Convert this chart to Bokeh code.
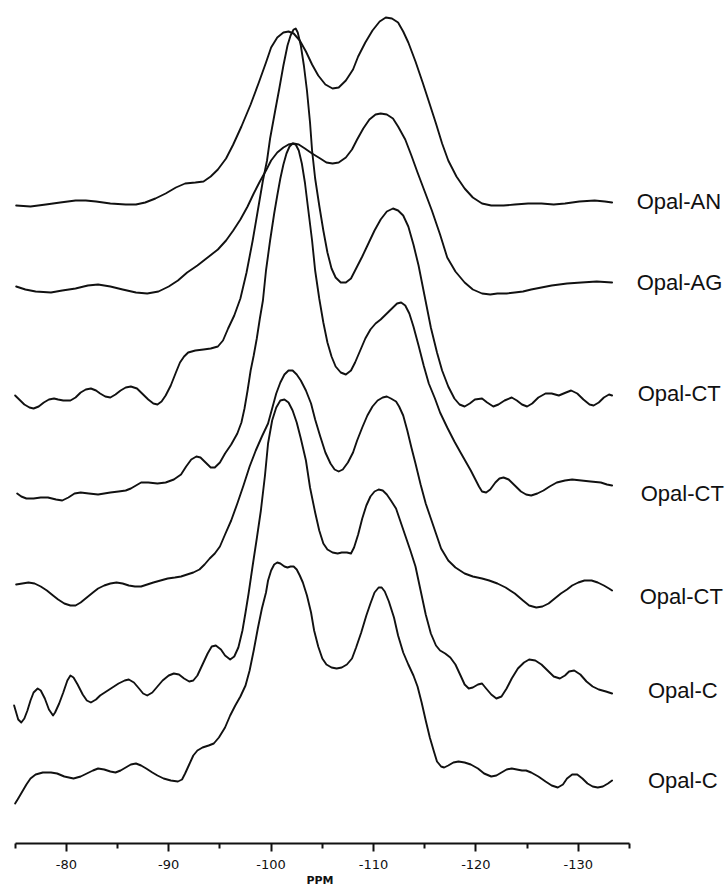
from bokeh.plotting import figure
from bokeh.models import Range1d, FixedTicker, Title
from bokeh.embed import file_html
from bokeh.resources import INLINE
from bokeh.core.properties import value

# ---------------- data: chemical shift (ppm) and stacked intensity ----------------
an_ppm = [-75.1, -76.5, -78.0, -79.4, -80.9, -81.9, -82.9, -84.3, -85.8, -86.8,
          -87.7, -88.7, -89.7, -90.7, -91.6, -92.6, -93.4, -94.1, -94.8, -95.6,
          -96.3, -97.1, -98.0, -98.8, -99.5, -100.0, -100.6, -101.2, -101.7, -102.2,
          -102.8, -103.4, -104.0, -104.6, -105.3, -106.0, -106.6, -107.3, -108.0, -108.5,
          -109.2, -109.9, -110.6, -111.2, -111.8, -112.4, -112.9, -113.4, -114.1, -114.8,
          -115.5, -116.1, -116.7, -117.3, -118.1, -118.9, -119.7, -120.6, -121.5, -122.7,
          -123.8, -125.1, -126.4, -127.6, -128.7, -130.1, -131.6, -132.6, -133.3]
an_int = [638, 637, 639, 641, 643, 643, 642, 640, 639, 639,
          641, 645, 650, 656, 660, 661, 662, 667, 674, 685,
          699, 717, 739, 761, 781, 796, 806, 811, 812, 810,
          803, 792, 779, 768, 759, 755, 756, 763, 774, 787,
          801, 813, 822, 826, 825, 821, 812, 801, 782, 761,
          739, 720, 700, 683, 667, 655, 646, 640, 638, 638,
          639, 640, 640, 639, 640, 642, 643, 642, 641]

ag_ppm = [-75.1, -76.0, -77.0, -78.5, -79.6, -80.9, -82.1, -83.1, -84.3, -85.5,
          -86.8, -87.9, -89.0, -90.0, -90.9, -91.8, -92.8, -93.8, -94.8, -95.6,
          -96.3, -97.0, -97.7, -98.3, -98.9, -99.5, -100.0, -100.6, -101.2, -101.7,
          -102.2, -102.7, -103.3, -104.0, -104.8, -105.4, -106.0, -106.6, -107.3, -107.9,
          -108.4, -109.0, -109.6, -110.2, -110.7, -111.3, -111.9, -112.4, -113.1, -113.7,
          -114.3, -115.0, -115.7, -116.5, -117.2, -118.0, -118.9, -119.7, -120.6, -121.4,
          -122.1, -123.0, -123.8, -124.6, -125.4, -126.4, -127.4, -128.9, -130.3, -131.8,
          -133.3]
ag_int = [557, 554, 552, 551, 553, 555, 558, 559, 557, 554,
          551, 550, 552, 557, 563, 571, 578, 586, 594, 603,
          613, 624, 637, 650, 662, 673, 683, 691, 696, 699,
          700, 699, 695, 690, 685, 681, 680, 681, 686, 694,
          704, 715, 724, 729, 730, 729, 725, 717, 704, 688,
          671, 652, 633, 609, 586, 572, 561, 554, 550, 549,
          550, 550, 551, 552, 554, 556, 558, 560, 561, 562,
          561]

ct1_ppm = [-75.0, -75.4, -75.9, -76.4, -76.8, -77.3, -77.8, -78.3, -78.8, -79.2,
           -79.7, -80.4, -80.9, -81.4, -81.9, -82.4, -82.9, -83.3, -83.8, -84.3,
           -84.8, -85.3, -85.8, -86.3, -86.9, -87.4, -88.0, -88.5, -88.9, -89.3,
           -89.7, -90.2, -90.7, -91.1, -91.5, -91.9, -92.6, -93.4, -94.1, -94.8,
           -95.3, -95.8, -96.4, -97.0, -97.6, -98.2, -98.7, -99.2, -99.6, -99.9,
           -100.4, -100.8, -101.2, -101.6, -101.9, -102.2, -102.4, -102.6, -102.9, -103.2,
           -103.5, -103.8, -104.0, -104.3, -104.7, -105.1, -105.5, -105.9, -106.3, -106.8,
           -107.3, -107.8, -108.3, -108.9, -109.5, -110.1, -110.7, -111.3, -111.9, -112.4,
           -112.9, -113.4, -113.9, -114.4, -115.0, -115.6, -116.2, -116.7, -117.3, -117.9,
           -118.4, -118.9, -119.4, -119.9, -120.6, -121.1, -121.7, -122.2, -122.8, -123.5,
           -124.0, -124.5, -125.0, -125.5, -126.1, -126.8, -127.4, -128.1, -128.8, -129.3,
           -129.9, -130.5, -131.1, -131.5, -132.0, -132.5, -133.0, -133.3]
ct1_int = [448, 444, 439, 436, 435, 437, 441, 444, 445, 444,
           443, 443, 446, 451, 454, 455, 453, 450, 447, 446,
           449, 453, 456, 457, 455, 450, 444, 440, 439, 442,
           448, 458, 471, 481, 487, 491, 493, 494, 495, 497,
           503, 515, 528, 545, 571, 603, 633, 663, 683, 705,
           733, 755, 778, 798, 808, 814, 815, 811, 798, 778,
           753, 721, 693, 665, 638, 613, 591, 575, 566, 561,
           561, 565, 575, 587, 600, 613, 624, 632, 635, 633,
           628, 617, 599, 578, 547, 516, 491, 473, 457, 445,
           439, 437, 440, 444, 445, 441, 437, 439, 443, 446,
           443, 439, 437, 440, 446, 450, 450, 448, 451, 453,
           450, 444, 439, 438, 441, 446, 449, 448]

ct2_ppm = [-75.2, -75.6, -76.1, -76.8, -77.5, -78.2, -79.0, -79.6, -80.2, -80.8,
           -81.4, -82.2, -83.1, -83.7, -84.3, -85.1, -85.8, -86.3, -86.8, -87.3,
           -88.0, -88.9, -89.7, -90.5, -91.2, -91.7, -92.2, -92.7, -93.1, -93.6,
           -94.1, -94.5, -95.0, -95.5, -96.1, -96.7, -97.1, -97.4, -97.7, -98.0,
           -98.3, -98.6, -98.9, -99.2, -99.5, -99.9, -100.3, -100.6, -100.9, -101.2,
           -101.5, -101.8, -102.1, -102.4, -102.7, -103.0, -103.3, -103.6, -104.0, -104.3,
           -104.7, -105.1, -105.5, -105.9, -106.3, -106.8, -107.3, -107.8, -108.2, -108.7,
           -109.2, -109.7, -110.2, -110.7, -111.3, -111.9, -112.3, -112.7, -113.1, -113.5,
           -113.9, -114.4, -114.9, -115.4, -116.0, -116.5, -117.2, -117.9, -118.5, -119.0,
           -119.5, -119.9, -120.3, -120.6, -121.0, -121.4, -121.9, -122.3, -122.7, -123.2,
           -123.8, -124.4, -124.9, -125.4, -126.0, -126.6, -127.2, -127.9, -128.7, -129.4,
           -130.3, -131.2, -132.2, -132.8, -133.3]
ct2_int = [350, 347, 345, 345, 346, 346, 344, 343, 346, 350,
           351, 350, 349, 350, 351, 352, 353, 355, 358, 361,
           361, 360, 361, 364, 369, 377, 384, 387, 386, 381,
           376, 376, 381, 390, 399, 410, 421, 435, 453, 473,
           488, 505, 525, 543, 573, 603, 630, 648, 665, 679,
           690, 697, 700, 699, 693, 680, 661, 636, 603, 573,
           545, 521, 501, 487, 477, 471, 469, 473, 481, 493,
           505, 514, 520, 524, 530, 536, 540, 541, 538, 530,
           517, 498, 478, 460, 445, 431, 416, 402, 391, 382,
           373, 365, 357, 352, 351, 354, 361, 365, 366, 364,
           358, 352, 349, 348, 350, 353, 357, 361, 363, 364,
           363, 362, 361, 359, 358]

ct3_ppm = [-75.1, -75.7, -76.3, -76.9, -77.5, -78.1, -78.7, -79.2, -79.8, -80.4,
           -80.9, -81.4, -82.0, -82.6, -83.1, -83.7, -84.3, -84.9, -85.5, -86.1,
           -86.7, -87.3, -87.9, -88.5, -89.2, -89.9, -90.6, -91.2, -91.8, -92.4,
           -93.0, -93.5, -94.0, -94.5, -95.0, -95.5, -96.1, -96.7, -97.3, -97.9,
           -98.5, -99.1, -99.7, -100.1, -100.5, -100.9, -101.3, -101.7, -102.1, -102.5,
           -102.9, -103.4, -103.9, -104.3, -104.8, -105.3, -105.8, -106.2, -106.6, -107.0,
           -107.5, -108.0, -108.4, -108.9, -109.4, -109.9, -110.4, -110.9, -111.3, -111.7,
           -112.2, -112.5, -112.9, -113.3, -113.7, -114.1, -114.6, -115.1, -115.6, -116.1,
           -116.6, -117.3, -118.0, -118.9, -119.7, -120.6, -121.3, -122.1, -122.9, -123.8,
           -124.6, -125.2, -125.9, -126.5, -127.1, -127.7, -128.3, -128.9, -129.4, -130.0,
           -130.6, -131.3, -131.9, -132.5, -133.0, -133.3]
ct3_int = [259, 260, 261, 260, 257, 253, 248, 244, 240, 238,
           238, 241, 246, 251, 255, 258, 260, 261, 260, 258,
           257, 257, 259, 261, 263, 265, 266, 267, 269, 271,
           274, 279, 285, 290, 297, 309, 323, 340, 358, 377,
           393, 407, 420, 435, 450, 461, 469, 473, 473, 469,
           463, 453, 440, 424, 407, 391, 380, 374, 372, 374,
           381, 391, 403, 416, 428, 437, 443, 446, 447, 445,
           442, 437, 428, 413, 396, 380, 359, 340, 325, 310,
           295, 283, 276, 270, 267, 265, 263, 260, 256, 250,
           243, 238, 236, 237, 240, 245, 250, 254, 258, 261,
           263, 263, 261, 258, 255, 253]

c1_ppm = [-74.9, -75.1, -75.3, -75.6, -75.9, -76.2, -76.5, -76.8, -77.2, -77.5,
          -77.9, -78.3, -78.7, -78.9, -79.3, -79.7, -80.1, -80.4, -80.7, -81.1,
          -81.6, -82.0, -82.4, -82.9, -83.3, -83.9, -84.5, -85.1, -85.7, -86.1,
          -86.6, -87.1, -87.5, -87.9, -88.4, -88.9, -89.4, -90.0, -90.5, -91.0,
          -91.5, -92.0, -92.4, -92.8, -93.3, -93.8, -94.2, -94.6, -95.1, -95.5,
          -96.0, -96.4, -96.8, -97.2, -97.5, -97.8, -98.2, -98.6, -99.0, -99.4,
          -99.7, -100.1, -100.5, -100.9, -101.3, -101.7, -102.1, -102.5, -102.9, -103.4,
          -103.8, -104.3, -104.7, -105.1, -105.5, -106.0, -106.5, -106.9, -107.4, -107.8,
          -108.1, -108.5, -108.9, -109.3, -109.7, -110.1, -110.5, -110.9, -111.3, -111.7,
          -112.2, -112.6, -113.1, -113.6, -114.1, -114.6, -115.1, -115.6, -116.1, -116.5,
          -117.0, -117.5, -118.0, -118.5, -118.9, -119.3, -119.7, -120.2, -120.6, -121.0,
          -121.5, -122.0, -122.5, -123.0, -123.5, -124.1, -124.7, -125.2, -125.8, -126.4,
          -127.0, -127.6, -128.2, -128.7, -129.1, -129.6, -130.2, -130.8, -131.4, -132.0,
          -132.7, -133.3]
c1_int = [138, 131, 124, 121, 125, 133, 143, 151, 155, 153,
          145, 134, 128, 131, 140, 151, 163, 168, 166, 159,
          149, 143, 141, 144, 148, 152, 156, 160, 163, 164,
          161, 155, 150, 148, 151, 157, 163, 168, 170, 169,
          165, 162, 163, 168, 179, 190, 197, 198, 194, 188,
          184, 187, 196, 213, 231, 250, 278, 305, 333, 368,
          400, 423, 436, 443, 444, 441, 433, 421, 405, 383,
          356, 331, 313, 300, 294, 291, 290, 291, 291, 290,
          296, 309, 325, 338, 347, 352, 354, 353, 349, 343,
          335, 323, 308, 293, 277, 253, 229, 210, 198, 193,
          190, 186, 179, 168, 159, 155, 156, 159, 160, 155,
          149, 145, 147, 155, 165, 175, 181, 184, 183, 179,
          173, 167, 165, 168, 172, 173, 169, 162, 157, 154,
          152, 150]

c2_ppm = [-75.0, -75.3, -75.7, -76.1, -76.5, -77.0, -77.7, -78.5, -79.1, -79.8,
          -80.7, -81.4, -82.0, -82.6, -83.1, -83.7, -84.3, -84.8, -85.3, -85.8,
          -86.3, -86.8, -87.3, -87.8, -88.4, -88.9, -89.5, -90.2, -90.9, -91.3,
          -91.6, -92.0, -92.4, -92.8, -93.3, -93.9, -94.4, -94.9, -95.5, -96.0,
          -96.5, -97.0, -97.5, -97.9, -98.3, -98.7, -99.1, -99.5, -99.7, -100.0,
          -100.3, -100.6, -100.9, -101.3, -101.6, -101.9, -102.2, -102.5, -102.8, -103.1,
          -103.5, -103.9, -104.2, -104.6, -105.0, -105.4, -105.9, -106.4, -106.9, -107.4,
          -107.9, -108.3, -108.8, -109.3, -109.7, -110.1, -110.5, -110.8, -111.1, -111.5,
          -112.0, -112.4, -112.9, -113.4, -113.9, -114.3, -114.7, -115.1, -115.5, -115.9,
          -116.2, -116.6, -116.9, -117.3, -117.8, -118.3, -118.9, -119.5, -120.2, -120.8,
          -121.5, -122.0, -122.5, -123.0, -123.5, -124.0, -124.5, -124.9, -125.4, -126.1,
          -126.8, -127.4, -128.0, -128.5, -128.9, -129.4, -129.9, -130.4, -130.9, -131.4,
          -131.9, -132.4, -132.9, -133.3]
c2_int = [40, 45, 52, 59, 65, 69, 71, 71, 70, 67,
          65, 67, 70, 73, 75, 74, 72, 71, 73, 76,
          79, 80, 78, 75, 71, 68, 65, 63, 62, 64,
          70, 79, 88, 93, 96, 98, 100, 106, 116, 128,
          138, 147, 158, 173, 193, 215, 235, 251, 263, 273,
          279, 281, 280, 277, 276, 277, 277, 274, 268, 261,
          248, 231, 213, 197, 185, 179, 176, 175, 176, 179,
          185, 196, 211, 228, 240, 251, 256, 256, 252, 242,
          226, 208, 191, 179, 168, 157, 141, 123, 106, 92,
          82, 77, 76, 78, 81, 82, 81, 79, 75, 70,
          67, 68, 71, 74, 75, 74, 73, 73, 71, 67,
          62, 58, 56, 59, 65, 69, 69, 65, 60, 57,
          56, 57, 60, 63]

names = ["Opal-AN", "Opal-AG", "Opal-CT", "Opal-CT", "Opal-CT", "Opal-C", "Opal-C"]

tick_values = [-80, -90, -100, -110, -120, -130]
tick_labels = ["-80", "-90", "-100", "-110", "-120", "-130"]
minor_values = [-75, -85, -95, -105, -115, -125, -135]
axis_title = "PPM"

# ---------------- figure ----------------
p = figure(width=728, height=888, output_backend="svg", toolbar_location=None,
           x_range=Range1d(-73.57, -144.67), y_range=Range1d(0, 843),
           y_axis_type=None,
           min_border_left=0, min_border_right=0, min_border_top=0, min_border_bottom=45)
p.grid.visible = False
p.outline_line_color = None
p.background_fill_color = "white"
p.border_fill_color = "white"

series = [(an_ppm, an_int), (ag_ppm, ag_int), (ct1_ppm, ct1_int), (ct2_ppm, ct2_int),
          (ct3_ppm, ct3_int), (c1_ppm, c1_int), (c2_ppm, c2_int)]
for xs, ys in series:
    p.line(xs, ys, line_color="#111111", line_width=1.9, line_join="round", line_cap="round")

# labels to the right of each trace
label_x = [-135.7, -135.7, -135.8, -136.1, -136.0, -136.8, -136.8]
label_y = [642, 561, 450, 350, 247, 153, 63]
p.text(x=label_x, y=label_y, text=names, text_font=value("Liberation Sans"),
       text_font_size="22px", text_baseline="middle", text_align="left", text_color="#111111")

ax = p.xaxis[0]
ax.ticker = FixedTicker(ticks=tick_values, minor_ticks=minor_values)
ax.bounds = (-135, -75)
ax.major_label_overrides = dict(zip(tick_values, tick_labels))
ax.axis_line_width = 2
ax.axis_line_color = "#111111"
ax.major_tick_line_width = 2
ax.minor_tick_line_width = 2
ax.major_tick_line_color = "#111111"
ax.minor_tick_line_color = "#111111"
ax.major_tick_in = 0
ax.major_tick_out = 8
ax.minor_tick_in = 0
ax.minor_tick_out = 5
ax.major_label_standoff = 8
ax.major_label_text_font = "DejaVu Sans"
ax.major_label_text_font_size = "13px"
ax.major_label_text_color = "#111111"

# axis title centred under the axis line (not the whole frame), as a title panel below the axis
ppm_title = Title(text=axis_title, align="left", offset=306, standoff=0,
                  text_font="DejaVu Sans", text_font_size="11px", text_font_style="bold",
                  text_color="#111111")
p.add_layout(ppm_title, "below")

open("out.html", "w").write(file_html(p, INLINE))
